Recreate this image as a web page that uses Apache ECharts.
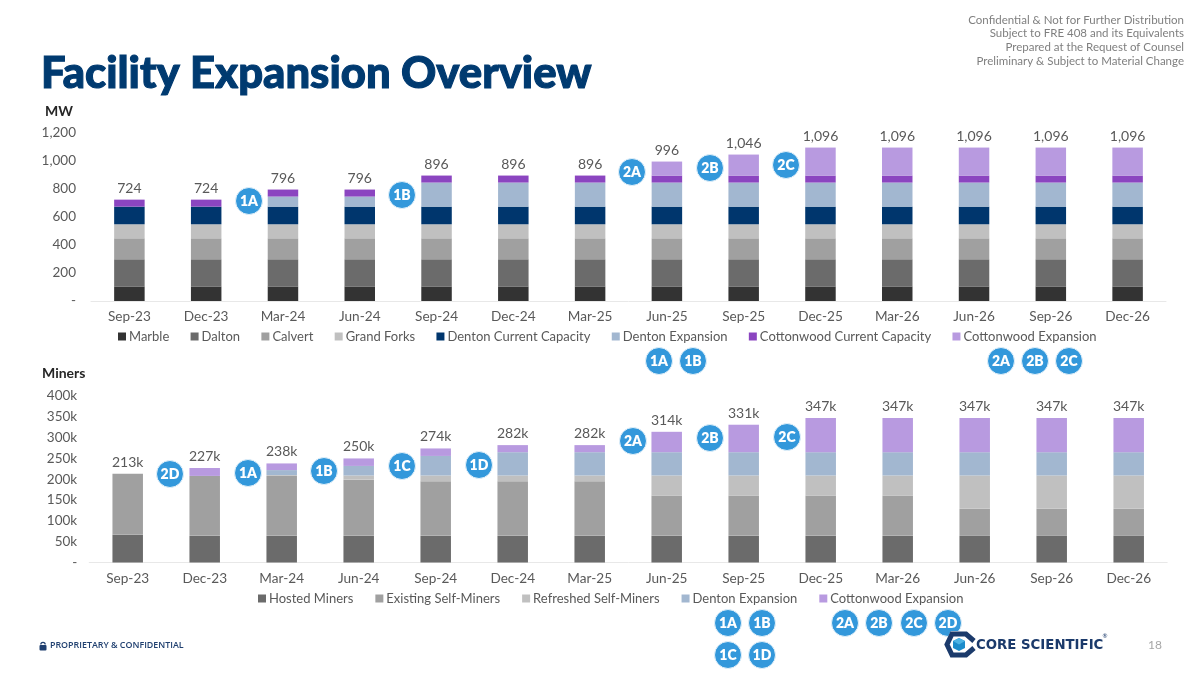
<!DOCTYPE html>
<html><head><meta charset="utf-8">
<script src="https://cdn.jsdelivr.net/npm/echarts@6/dist/echarts.min.js"></script>
<style>html,body{margin:0;padding:0;background:#fff}#c{width:1200px;height:675px}</style>
</head><body><div id="c"></div>
<script>
const categories = ['Sep-23','Dec-23','Mar-24','Jun-24','Sep-24','Dec-24','Mar-25','Jun-25','Sep-25','Dec-25','Mar-26','Jun-26','Sep-26','Dec-26'];

// MW
const marble            = [104,104,104,104,104,104,104,104,104,104,104,104,104,104];
const dalton            = [194,194,194,194,194,194,194,194,194,194,194,194,194,194];
const calvert           = [150,150,150,150,150,150,150,150,150,150,150,150,150,150];
const grandForks        = [100,100,100,100,100,100,100,100,100,100,100,100,100,100];
const dentonCurrent     = [126,126,126,126,126,126,126,126,126,126,126,126,126,126];
const dentonExpansionMW = [0,0,72,72,172,172,172,172,172,172,172,172,172,172];
const cottonwoodCurrent = [50,50,50,50,50,50,50,50,50,50,50,50,50,50];
const cottonwoodExpMW   = [0,0,0,0,0,0,0,100,150,200,200,200,200,200];
const totalMW           = [724,724,796,796,896,896,896,996,1046,1096,1096,1096,1096,1096];

// Miners (thousands)
const hosted            = [67,64,64,64,64,64,64,64,64,64,64,64,64,64];
const existingSelf      = [146,144,144,135,131,131,131,97,97,97,97,65,65,65];
const refreshedSelf     = [0,0,2,10,14,14,14,48,48,48,48,80,80,80];
const dentonExpMiners   = [0,0,12,23,47,56,56,56,56,56,56,56,56,56];
const cottonwoodExpMin  = [0,19,16,18,18,17,17,49,66,82,82,82,82,82];
const totalMiners       = [213,227,238,250,274,282,282,314,331,347,347,347,347,347];

const mwTicks = {0:'-',200:'200',400:'400',600:'600',800:'800',1000:'1,000',1200:'1,200'};

const FONT = 'Lato';
const TXT = '#595959';
const C = {marble:'#333333',dalton:'#6b6b6b',calvert:'#a0a0a0',grand:'#c0c0c0',dcur:'#00366d',dexp:'#a2b7d0',ccur:'#8b45c0',cexp:'#b89ae0'};

function bar(name,data,color,idx){
  return {name,type:'bar',stack:'s'+idx,data,xAxisIndex:idx,yAxisIndex:idx,barWidth:30.5,itemStyle:{color},animation:false,silent:true};
}
function total(data,idx,fmt){
  return {name:'Total'+idx,type:'line',data,xAxisIndex:idx,yAxisIndex:idx,symbol:'circle',symbolSize:1,showSymbol:true,
    itemStyle:{color:'rgba(0,0,0,0)'},lineStyle:{opacity:0,width:0},animation:false,silent:true,
    label:{show:true,position:'top',distance:4,color:TXT,fontFamily:FONT,fontSize:14,formatter:fmt}};
}
const series=[
 bar('Marble',marble,C.marble,0),bar('Dalton',dalton,C.dalton,0),bar('Calvert',calvert,C.calvert,0),bar('Grand Forks',grandForks,C.grand,0),
 bar('Denton Current Capacity',dentonCurrent,C.dcur,0),bar('Denton Expansion',dentonExpansionMW,C.dexp,0),
 bar('Cottonwood Current Capacity',cottonwoodCurrent,C.ccur,0),bar('Cottonwood Expansion',cottonwoodExpMW,C.cexp,0),
 total(totalMW,0,p=>p.value.toLocaleString('en-US')),
 bar('Hosted Miners',hosted,C.dalton,1),bar('Existing Self-Miners',existingSelf,C.calvert,1),bar('Refreshed Self-Miners',refreshedSelf,C.grand,1),
 bar('Denton Expansion',dentonExpMiners,C.dexp,1),bar('Cottonwood Expansion',cottonwoodExpMin,C.cexp,1),
 total(totalMiners,1,p=>p.value+'k')
];
function xAxis(i,off){return {type:'category',gridIndex:i,data:categories,axisTick:{show:false},axisLine:{lineStyle:{color:'#e8e8e8',width:1}},
  axisLabel:{color:TXT,fontFamily:FONT,fontSize:13.6,margin:off,interval:0}};}
function yAxis(i,max,interval,fmt,margin){return {type:'value',gridIndex:i,min:0,max,interval,splitLine:{show:false},axisLine:{show:false},axisTick:{show:false},
  axisLabel:{color:TXT,fontFamily:FONT,fontSize:13.5,margin,formatter:fmt}};}
function legend(top,left,gap,data){return {top,left,data,icon:'rect',itemWidth:8,itemHeight:8,itemGap:gap,selectedMode:false,padding:0,
  textStyle:{color:TXT,fontFamily:FONT,fontSize:13,padding:[0,0,0,-2]}};}

const bubbleLayout=[
 ['1A',249,201],['1B',402,195],['2A',632,172],['2B',710,168],['2C',786,165],
 ['1A',659,361],['1B',693,361],['2A',1001,361],['2B',1035,361],['2C',1069,361],
 ['2D',170,474],['1A',248,473],['1B',324,471],['1C',402,466],['1D',479,465],['2A',633,441],['2B',710,438],['2C',787,437],
 ['1A',728,623],['1B',762,623],['2A',845,623],['2B',879,623],['2C',914,623],['2D',948,623],['1C',728,655],['1D',762,655]
];
const bubbles=bubbleLayout.map(([t,x,y])=>({type:'circle',shape:{cx:x,cy:y,r:13.5},z:20,silent:true,
  style:{fill:'#3398db',stroke:'#e3f1fa',lineWidth:1},
  textContent:{style:{text:t,fill:'#fff',font:'800 14px '+FONT},z:21},textConfig:{position:'inside'}}));

function txt(x,y,text,font,fill,align,extra,styleExtra){return Object.assign({type:'text',x,y,z:30,silent:true,style:Object.assign({text,font,fill,align:align||'left',verticalAlign:'middle'},styleExtra||{})},extra||{});}
const headerLines=['Confidential & Not for Further Distribution','Subject to FRE 408 and its Equivalents','Prepared at the Request of Counsel','Preliminary & Subject to Material Change'];
const g=[
 ...headerLines.map((t,i)=>txt(1184,20+i*13.7,t,'11.5px '+FONT,'#7f7f7f','right')),
 txt(41,73.5,'Facility Expansion Overview','900 43.6px '+FONT,'#003a70','left',null,{stroke:'#003a70',lineWidth:1.1}),
 txt(45,111,'MW','700 14px '+FONT,'#262626'),
 txt(42,373,'Miners','700 14px '+FONT,'#262626'),
 ...bubbles,
 // footer
 {type:'rect',shape:{x:39.5,y:645,width:7,height:5.5,r:1},style:{fill:'#1f3f6f'},z:30,silent:true},
 {type:'arc',shape:{cx:43,cy:644.5,r:2.2,startAngle:Math.PI,endAngle:0},style:{stroke:'#1f3f6f',fill:null,lineWidth:1.2},z:30,silent:true},
 txt(50,645.5,'PROPRIETARY & CONFIDENTIAL','600 8.9px "Open Sans"','#1f3f6f'),
 txt(1155,645,'18','12px '+FONT,'#a6a6a6','center'),
 // logo
 {type:'polygon',shape:{points:[[944,644.5],[951,631],[966,631],[976,639],[976,650],[966,658],[951,658]]},style:{fill:'#fff'},z:40,silent:true},
 {type:'polyline',shape:{points:[[974,641],[966,634],[952,634],[947,644.5],[952,655],[966,655],[974,648]]},style:{stroke:'#1b3a6b',fill:null,lineWidth:5,lineJoin:'miter'},z:41,silent:true},
 {type:'polygon',shape:{points:[[959,638],[965,641],[965,648],[959,651],[953,648],[953,641]]},style:{fill:'#1c8ccb'},z:41,silent:true},
 {type:'polygon',shape:{points:[[959,638],[965,641],[959,644.5],[953,641]]},style:{fill:'#4db3e4'},z:42,silent:true},
 txt(976,645,'CORE SCIENTIFIC','800 14px "DejaVu Sans"','#1b3a6b','left',{scaleX:0.95,z:41}),
 txt(1105,636,'®','6px '+FONT,'#1b3a6b','center',{z:41})
];

const chart=echarts.init(document.getElementById('c'),null,{renderer:'canvas'});
chart.setOption({
 animation:false,backgroundColor:'#fff',
 grid:[{left:91,width:1075,top:133,height:168},{left:89.2,width:1078,top:396,height:166.5}],
 xAxis:[xAxis(0,9),xAxis(1,9)],
 yAxis:[yAxis(0,1200,200,v=>mwTicks[v],15),yAxis(1,400,50,v=>v===0?'-':v+'k',12)],
 legend:[
  legend(330,118,21.3,['Marble','Dalton','Calvert','Grand Forks','Denton Current Capacity','Denton Expansion','Cottonwood Current Capacity','Cottonwood Expansion']),
  legend(592,258,22,['Hosted Miners','Existing Self-Miners','Refreshed Self-Miners','Denton Expansion','Cottonwood Expansion'])
 ],
 series,graphic:{elements:g}
});
</script></body></html>
